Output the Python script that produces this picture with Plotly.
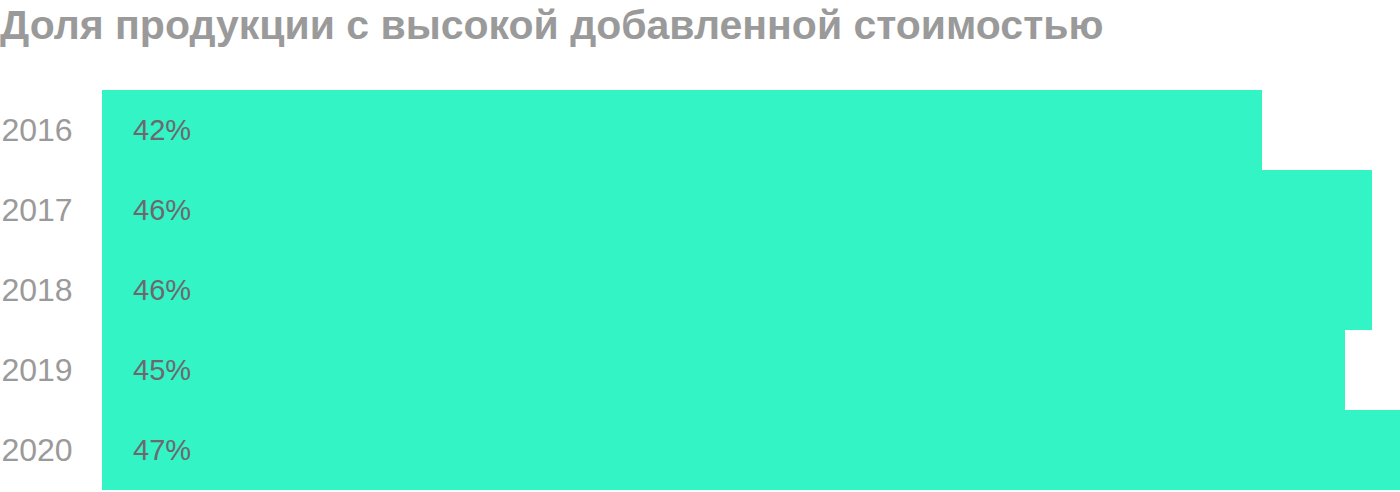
import plotly.graph_objects as go

years = ["2016", "2017", "2018", "2019", "2020"]
shares = [42, 46, 46, 45, 47]
value_labels = ["42%", "46%", "46%", "45%", "47%"]

BAR_COLOR = "#33F4C5"
TITLE = "Доля продукции с высокой добавленной стоимостью"
FONT = "Liberation Sans, Arial, sans-serif"

fig = go.Figure(
    go.Bar(
        x=shares,
        y=years,
        orientation="h",
        marker=dict(color=BAR_COLOR, line=dict(width=0)),
        hoverinfo="skip",
    )
)

# value labels sit at the start of each bar (category index, years look numeric)
for i, label in enumerate(value_labels):
    fig.add_annotation(
        x=0, y=i, xref="x", yref="y",
        text=label, showarrow=False,
        xanchor="left", xshift=29,
        font=dict(family=FONT, size=29, color="#6c686e"),
    )

fig.update_layout(
    width=1400,
    height=492,
    margin=dict(l=102, r=0, t=90, b=2, autoexpand=False),
    paper_bgcolor="white",
    plot_bgcolor="white",
    showlegend=False,
    bargap=0,
    title=dict(
        text=TITLE,
        x=0, xref="container", xanchor="left",
        y=1, yref="container", yanchor="top", pad=dict(t=10, l=0),
        font=dict(family=FONT, size=41, color="#9a9a9a", weight="bold"),
    ),
)
fig.update_xaxes(range=[0, 47], visible=False, fixedrange=True)
fig.update_yaxes(
    type="category",
    categoryorder="array",
    categoryarray=years,
    range=[len(years) - 0.5, -0.5],
    showgrid=False, zeroline=False, showline=False,
    ticks="outside", ticklen=22, tickcolor="rgba(0,0,0,0)",
    tickfont=dict(family=FONT, size=32, color="#9a9a9a"),
    fixedrange=True,
)

# drop the default page margin so the figure sits flush in the window
fig.write_html(
    "out.html",
    config={"displayModeBar": False},
    post_script="document.body.style.margin='0';document.body.style.overflow='hidden';",
)
